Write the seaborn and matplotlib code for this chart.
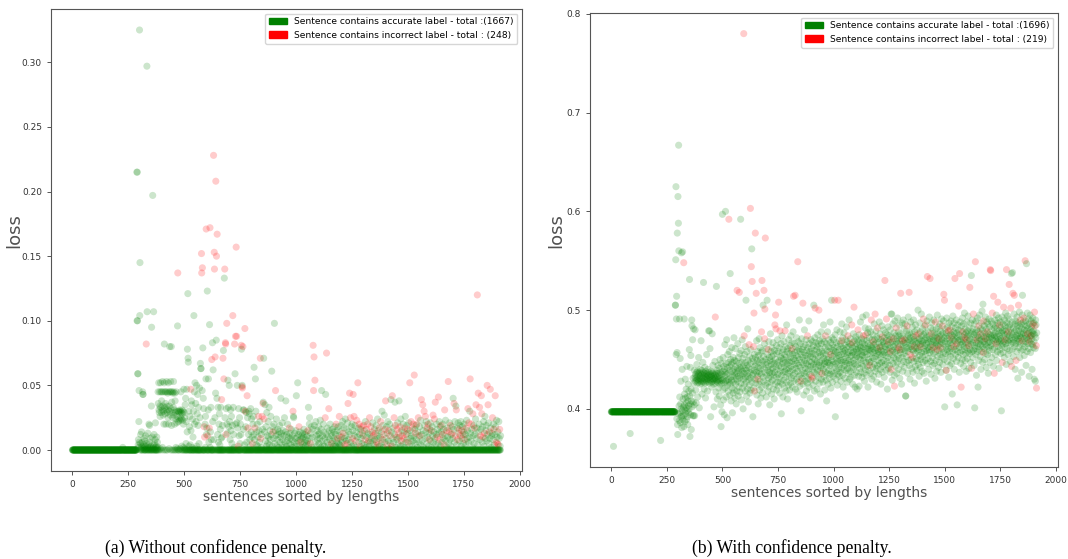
import numpy as np
import pandas as pd
import matplotlib
matplotlib.use("Agg")
import matplotlib.pyplot as plt
import matplotlib.patches as mpatches
from matplotlib.ticker import FormatStrFormatter
import seaborn as sns

# loss of every sentence (x1000), sentences sorted by length -> list position is x
# (a) without confidence penalty
loss_a = [0] * 225 + [2] + [0] * 49 + [
    # 275
    0, 0, 0, 0, 0, 0, 0, 0, 0, 0, 0, 0, 0, 215, 100, 215, 100, 59, 59, 4, 8, 2, 22, 46, 6,
    325, 104, 145, 0, 5, 12, 1, 0, 3, 14, 0, 2, 6, 0, 45, 43, 43, 1, 0, 4, 9, 0, 2, 7, 0,
    0, 3, 11, 0, 1, 82, 5, 0, 297, 107, 0, 2, 13, 0, 4, 1, 0, 20, 0, 6, 19, 2, 0, 9, 1,
    0, 3, 0, 34, 95, 0, 1, 10, 0, 197, 2, 0, 4, 107, 0, 12, 1, 0, 5, 0, 8, 21, 0, 2, 0,
    # 375
    3, 0, 10, 0, 1, 6, 0, 2, 45, 36, 0, 52, 31, 29, 0, 45, 34, 26, 1, 52, 33, 45, 0, 29, 38,
    45, 31, 2, 53, 34, 27, 45, 0, 30, 20, 52, 82, 33, 45, 0, 28, 36, 45, 20, 31, 0, 53, 34, 45, 29,
    0, 44, 31, 25, 52, 20, 45, 1, 34, 30, 80, 45, 27, 0, 53, 32, 45, 80, 19, 37, 0, 45, 29, 25, 44,
    0, 33, 53, 45, 27, 31, 0, 20, 44, 38, 0, 29, 24, 2, 45, 30, 0, 21, 26, 1, 96, 137, 0, 30, 22,
    # 475
    0, 30, 24, 29, 0, 31, 23, 1, 30, 25, 45, 0, 29, 24, 3, 31, 0, 28, 23, 0, 30, 20, 2, 47, 0,
    29, 0, 25, 1, 35, 0, 40, 0, 5, 22, 0, 47, 0, 14, 78, 0, 121, 71, 68, 0, 30, 3, 0, 18, 0,
    26, 0, 4, 0, 47, 15, 0, 38, 0, 35, 2, 0, 24, 0, 10, 0, 30, 0, 104, 0, 45, 20, 0, 52, 1,
    0, 36, 0, 22, 0, 50, 3, 0, 28, 0, 43, 0, 19, 0, 33, 0, 5, 0, 48, 0, 25, 0, 67, 0, 63,
    # 575
    63, 0, 152, 137, 0, 46, 141, 0, 79, 0, 40, 0, 32, 0, 18, 0, 10, 0, 20, 2, 26, 0, 55, 171, 12,
    0, 17, 0, 123, 0, 11, 0, 31, 55, 0, 6, 0, 17, 97, 0, 172, 2, 14, 0, 33, 0, 8, 0, 70, 0,
    0, 83, 22, 0, 62, 0, 228, 8, 0, 153, 140, 0, 25, 72, 0, 44, 208, 0, 85, 150, 0, 40, 167, 0, 12,
    0, 33, 0, 6, 0, 20, 0, 28, 0, 4, 0, 16, 0, 33, 0, 9, 0, 39, 0, 10, 0, 19, 0, 71, 0,
    # 675
    77, 0, 55, 0, 133, 0, 140, 25, 0, 83, 82, 0, 12, 32, 0, 98, 20, 0, 13, 0, 54, 0, 33, 0, 18,
    0, 50, 0, 22, 0, 8, 0, 31, 0, 15, 0, 26, 0, 5, 0, 19, 0, 104, 0, 33, 0, 12, 0, 2, 0,
    82, 0, 59, 0, 88, 20, 0, 157, 0, 88, 21, 0, 50, 0, 17, 0, 3, 0, 32, 0, 11, 0, 25, 0, 5,
    0, 20, 0, 12, 0, 81, 78, 0, 49, 50, 48, 0, 80, 31, 0, 16, 0, 31, 0, 4, 0, 94, 0, 30, 0,
    # 775
    18, 0, 29, 0, 6, 0, 42, 0, 25, 0, 17, 0, 12, 0, 30, 0, 28, 0, 8, 0, 3, 0, 32, 0, 14,
    0, 24, 0, 10, 0, 5, 0, 20, 0, 26, 0, 12, 64, 0, 8, 0, 17, 0, 55, 0, 30, 0, 4, 0, 14,
    0, 20, 0, 3, 0, 10, 0, 26, 0, 15, 0, 6, 0, 22, 0, 71, 0, 9, 0, 12, 0, 2, 0, 26, 0,
    16, 0, 36, 37, 0, 71, 0, 24, 0, 14, 0, 35, 0, 7, 0, 18, 0, 3, 0, 29, 0, 11, 0, 5, 0,
    # 875
    22, 0, 10, 0, 33, 0, 4, 0, 15, 0, 8, 0, 26, 0, 12, 0, 61, 0, 3, 0, 18, 0, 14, 0, 9,
    0, 20, 0, 98, 0, 5, 0, 15, 46, 0, 11, 0, 24, 0, 3, 0, 8, 0, 16, 0, 12, 0, 2, 0, 14,
    0, 19, 0, 6, 0, 10, 0, 40, 0, 13, 0, 4, 0, 21, 0, 8, 0, 15, 0, 2, 0, 11, 0, 25, 0,
    6, 0, 14, 0, 38, 0, 3, 0, 12, 0, 7, 0, 20, 0, 1, 0, 10, 0, 5, 0, 17, 0, 13, 0, 9,
    # 975
    0, 4, 0, 16, 0, 8, 0, 11, 0, 2, 0, 30, 0, 26, 25, 0, 6, 0, 13, 0, 3, 0, 9, 0, 15,
    0, 42, 0, 5, 0, 10, 0, 52, 0, 7, 0, 12, 0, 18, 0, 3, 0, 14, 0, 8, 0, 6, 0, 11, 0,
    2, 0, 9, 0, 13, 0, 4, 0, 10, 0, 16, 0, 6, 0, 12, 0, 3, 0, 8, 0, 14, 0, 5, 0, 11,
    0, 7, 0, 15, 0, 33, 0, 4, 0, 20, 25, 0, 9, 0, 5, 0, 13, 0, 18, 0, 2, 0, 10, 0, 16,
    # 1075
    0, 81, 0, 46, 0, 72, 0, 19, 0, 54, 0, 6, 0, 22, 0, 11, 0, 3, 0, 15, 0, 8, 0, 12, 0,
    18, 0, 5, 0, 13, 0, 9, 0, 23, 0, 2, 0, 16, 0, 46, 0, 7, 0, 11, 0, 4, 0, 20, 0, 14,
    0, 3, 0, 9, 0, 25, 0, 43, 0, 12, 0, 75, 0, 6, 0, 17, 0, 10, 0, 4, 0, 32, 0, 15, 0,
    8, 0, 20, 0, 2, 0, 13, 0, 5, 0, 11, 0, 16, 0, 7, 0, 3, 0, 14, 0, 9, 0, 18, 0, 4,
    # 1175
    0, 12, 0, 3, 20, 0, 7, 0, 15, 0, 2, 9, 0, 18, 0, 5, 0, 11, 26, 0, 4, 0, 14, 0, 8,
    3, 0, 19, 0, 10, 0, 6, 0, 22, 0, 13, 0, 1, 0, 17, 0, 9, 0, 4, 0, 24, 0, 11, 0, 7,
    0, 16, 0, 5, 0, 21, 0, 36, 0, 8, 0, 14, 0, 2, 44, 0, 12, 0, 25, 0, 6, 0, 18, 0, 3,
    20, 0, 9, 0, 15, 43, 0, 4, 0, 26, 0, 11, 0, 19, 0, 7, 0, 2, 0, 14, 0, 23, 0, 10, 0,
    # 1275
    0, 52, 0, 17, 0, 6, 0, 20, 0, 12, 0, 3, 0, 16, 0, 9, 0, 18, 0, 5, 0, 13, 0, 1, 0,
    11, 0, 19, 0, 4, 0, 15, 0, 8, 0, 22, 0, 2, 0, 16, 0, 10, 0, 5, 0, 20, 0, 13, 0, 7,
    0, 3, 0, 25, 0, 12, 0, 6, 0, 18, 0, 9, 0, 1, 0, 14, 0, 21, 0, 7, 0, 11, 0, 4, 0,
    16, 0, 8, 0, 13, 0, 2, 0, 19, 0, 6, 0, 11, 0, 24, 0, 4, 0, 15, 0, 9, 0, 17, 0, 3,
    # 1375
    0, 10, 0, 22, 0, 5, 0, 14, 0, 30, 0, 8, 0, 19, 0, 2, 0, 12, 0, 27, 0, 6, 0, 16, 0,
    38, 0, 9, 0, 18, 0, 4, 0, 13, 0, 22, 0, 7, 0, 15, 0, 1, 0, 20, 0, 11, 0, 5, 0, 39,
    0, 14, 0, 3, 0, 42, 0, 9, 0, 17, 0, 6, 0, 25, 0, 12, 0, 37, 0, 19, 0, 2, 0, 10, 0,
    8, 0, 16, 0, 21, 0, 5, 0, 13, 0, 38, 0, 10, 0, 18, 0, 3, 0, 24, 0, 7, 0, 15, 0, 11,
    # 1475
    0, 4, 0, 20, 0, 9, 0, 14, 0, 2, 0, 17, 0, 26, 0, 6, 0, 12, 0, 19, 0, 8, 0, 16, 0,
    13, 0, 6, 0, 21, 0, 3, 0, 52, 0, 15, 0, 9, 0, 22, 0, 11, 0, 4, 0, 17, 0, 7, 0, 20,
    0, 10, 0, 58, 0, 16, 0, 5, 0, 13, 0, 19, 0, 8, 0, 20, 0, 2, 0, 14, 0, 25, 0, 11, 0,
    6, 0, 18, 0, 11, 0, 23, 0, 4, 0, 39, 0, 12, 0, 7, 0, 35, 0, 15, 0, 2, 0, 30, 0, 19,
    # 1575
    0, 9, 0, 26, 0, 14, 0, 22, 0, 5, 0, 17, 0, 10, 0, 20, 0, 3, 0, 13, 0, 8, 0, 16, 0,
    21, 0, 7, 0, 15, 0, 2, 0, 18, 0, 11, 0, 27, 0, 6, 0, 14, 0, 24, 0, 9, 0, 37, 0, 4,
    0, 12, 0, 20, 0, 10, 0, 16, 0, 5, 0, 41, 0, 13, 0, 22, 0, 8, 0, 18, 0, 3, 0, 19, 0,
    14, 0, 6, 0, 12, 0, 20, 0, 9, 0, 16, 0, 4, 0, 31, 0, 11, 0, 23, 0, 7, 0, 15, 0, 2,
    # 1675
    0, 17, 0, 10, 0, 53, 0, 5, 0, 14, 0, 21, 0, 8, 0, 19, 0, 3, 0, 12, 0, 13, 0, 18, 0,
    9, 0, 40, 0, 16, 0, 36, 0, 6, 0, 22, 0, 11, 0, 34, 0, 31, 0, 4, 0, 17, 0, 8, 0, 21,
    0, 13, 0, 16, 0, 7, 0, 19, 0, 11, 0, 22, 0, 3, 0, 15, 0, 9, 0, 18, 0, 12, 0, 5, 0,
    14, 0, 20, 0, 8, 0, 12, 0, 4, 0, 17, 0, 23, 0, 9, 0, 15, 0, 32, 0, 6, 0, 21, 0, 10,
    # 1775
    0, 30, 0, 55, 0, 13, 0, 7, 0, 20, 0, 16, 0, 2, 0, 28, 0, 11, 0, 19, 0, 5, 0, 17, 0,
    12, 0, 24, 0, 35, 0, 9, 0, 17, 0, 120, 0, 4, 0, 44, 0, 14, 0, 20, 0, 33, 0, 8, 0, 11,
    0, 16, 0, 42, 0, 28, 0, 6, 0, 18, 0, 10, 0, 22, 0, 3, 0, 13, 0, 26, 0, 9, 0, 15, 0,
    19, 0, 7, 0, 50, 0, 12, 0, 35, 0, 21, 0, 5, 0, 14, 0, 9, 0, 47, 0, 17, 0, 2, 0, 11,
    # 1875
    0, 13, 0, 25, 0, 8, 0, 20, 0, 16, 0, 4, 0, 12, 0, 42, 0, 18, 0, 6, 0, 23, 0, 10, 0,
    5, 0, 14, 0, 4, 0, 22, 0, 9, 0, 16, 0, 3, 0, 11,
]

# sentences whose label is incorrect (red)
wrong_a = [
    330, 471, 529, 577, 578, 581, 589, 591, 598, 605, 612, 615, 623,
    631, 634, 635, 638, 641, 644, 647, 667, 673, 677, 681, 684, 685, 687, 690,
    717, 725, 729, 732, 734, 741, 755, 758, 760, 762, 771, 773, 781, 785,
    805, 816, 832, 840, 842, 848, 852, 857, 897, 908, 970, 986, 1013, 1021,
    1053, 1064, 1076, 1078, 1080, 1084, 1130, 1136, 1146, 1158,
    1179, 1186, 1193, 1204, 1210, 1218, 1228, 1232, 1239, 1243,
    1252, 1255, 1259, 1265, 1271, 1276, 1282, 1286, 1292, 1296,
    1302, 1308, 1314, 1320, 1324, 1328, 1334, 1340, 1346,
    1354, 1360, 1366, 1372, 1378, 1386, 1392, 1398,
    1400, 1406, 1414, 1420, 1428, 1430, 1438, 1444, 1448,
    1452, 1458, 1464, 1470, 1474, 1480, 1486, 1492, 1498,
    1502, 1508, 1514, 1520, 1524, 1528, 1534, 1540, 1546,
    1554, 1560, 1566, 1572, 1578, 1586, 1590, 1596,
    1604, 1612, 1618, 1622, 1630, 1636, 1642, 1648,
    1654, 1662, 1664, 1672, 1680, 1684, 1690, 1696,
    1706, 1712, 1716, 1722, 1728, 1734, 1740, 1746,
    1754, 1760, 1768, 1772, 1778, 1784, 1790, 1798,
    1804, 1810, 1814, 1820, 1824, 1828, 1830, 1836, 1842,
    1854, 1858, 1864, 1868, 1878, 1884, 1890, 1894, 1900, 1904, 1910,
]

# (b) with confidence penalty
loss_b = [397] * 10 + [362] + [397] * 74 + [375] + [397] * 136 + [368] + [397] * 52 + [
    # 275
    397, 397, 397, 397, 397, 397, 397, 397, 397, 397, 397, 397, 397, 505, 505, 551, 625, 455, 491, 514, 390, 457, 578, 384, 374,
    615, 395, 588, 667, 560, 403, 388, 491, 412, 396, 451, 386, 405, 428, 392, 400, 558, 381, 393, 440, 398, 559, 389, 410, 402,
    393, 548, 382, 491, 404, 415, 387, 399, 430, 411, 395, 401, 420, 389, 406, 443, 398, 412, 392, 384, 408, 425, 403, 396, 418,
    400, 460, 531, 413, 372, 405, 442, 394, 454, 420, 379, 408, 490, 484, 402, 416, 470, 393, 431, 407, 481, 393, 426, 404, 439,
    # 375
    393, 432, 480, 428, 435, 419, 431, 406, 437, 429, 445, 433, 426, 438, 412, 430, 436, 427, 452, 434, 429, 401, 437, 431, 425,
    433, 440, 428, 436, 469, 430, 426, 439, 415, 432, 435, 428, 447, 431, 437, 528, 427, 434, 420, 436, 430, 442, 426, 433, 411,
    438, 429, 435, 431, 455, 427, 436, 433, 418, 430, 440, 428, 434, 479, 437, 426, 432, 479, 430, 461, 435, 429, 392, 433, 438,
    427, 434, 422, 431, 476, 436, 428, 444, 430, 437, 425, 433, 402, 429, 435, 431, 448, 426, 493, 434, 430, 417, 436, 524, 428,
    # 475
    432, 439, 410, 427, 433, 444, 429, 436, 421, 430, 441, 413, 434, 428, 450, 425, 437, 404, 431, 382, 446, 426, 435, 397, 429,
    597, 438, 419, 452, 430, 409, 443, 426, 394, 440, 433, 465, 421, 437, 600, 428, 446, 412, 435, 470, 429, 391, 442, 424, 455,
    436, 418, 447, 430, 592, 427, 458, 439, 414, 443, 537, 425, 450, 432, 408, 445, 429, 462, 421, 438, 396, 447, 433, 416, 452,
    427, 440, 472, 419, 434, 449, 411, 437, 461, 425, 443, 430, 405, 448, 436, 418, 520, 441, 428, 466, 433, 413, 452, 439, 422,
    # 575
    446, 518, 431, 456, 417, 442, 435, 592, 426, 459, 440, 409, 447, 433, 470, 421, 438, 451, 400, 444, 430, 780, 436, 474, 425,
    455, 441, 418, 463, 432, 447, 510, 427, 439, 413, 458, 436, 444, 420, 481, 433, 449, 407, 442, 430, 465, 424, 453, 437, 416,
    446, 603, 431, 460, 419, 544, 440, 562, 427, 529, 451, 434, 392, 448, 436, 463, 421, 497, 439, 455, 418, 443, 430, 578, 452,
    426, 445, 517, 437, 469, 414, 449, 433, 458, 430, 442, 405, 454, 438, 425, 471, 447, 419, 436, 462, 428, 450, 441, 411, 457,
    # 675
    435, 478, 422, 530, 444, 459, 416, 448, 505, 432, 453, 428, 520, 441, 466, 471, 501, 437, 573, 424, 450, 445, 412, 461, 434,
    447, 510, 426, 455, 439, 418, 460, 443, 431, 468, 422, 452, 437, 404, 449, 433, 476, 440, 427, 458, 445, 415, 453, 436, 462,
    429, 448, 441, 467, 420, 455, 434, 446, 410, 459, 437, 485, 425, 450, 495, 443, 481, 432, 464, 419, 456, 440, 427, 470, 447,
    435, 458, 423, 508, 444, 431, 462, 449, 416, 479, 438, 453, 427, 466, 442, 395, 451, 434, 474, 425, 457, 446, 412, 460, 437,
    # 775
    450, 429, 468, 443, 421, 455, 438, 479, 447, 432, 463, 418, 452, 440, 485, 427, 458, 445, 410, 461, 436, 449, 424, 470, 441,
    433, 456, 447, 419, 464, 438, 452, 426, 474, 443, 459, 431, 467, 448, 461, 422, 455, 440, 478, 434, 514, 451, 428, 466, 445,
    457, 436, 515, 449, 420, 463, 441, 454, 430, 472, 446, 417, 459, 438, 549, 452, 427, 468, 444, 461, 433, 490, 450, 423, 458,
    442, 466, 435, 428, 398, 455, 447, 471, 431, 460, 439, 452, 507, 425, 463, 445, 414, 457, 436, 480, 449, 428, 465, 441, 454,
    # 875
    433, 470, 446, 418, 459, 437, 451, 426, 474, 444, 462, 430, 455, 440, 489, 422, 466, 448, 435, 458, 411, 453, 443, 470, 429,
    461, 447, 433, 456, 431, 468, 440, 452, 424, 464, 445, 505, 437, 459, 418, 450, 472, 502, 442, 455, 428, 467, 446, 435, 460,
    448, 420, 463, 439, 475, 453, 432, 466, 444, 500, 457, 426, 469, 447, 438, 461, 415, 454, 442, 478, 430, 466, 449, 436, 458,
    444, 471, 427, 456, 440, 485, 451, 433, 468, 446, 419, 462, 448, 437, 474, 455, 429, 466, 443, 408, 459, 450, 436, 478, 447,
    # 975
    425, 463, 452, 439, 470, 446, 431, 458, 444, 488, 435, 467, 455, 421, 461, 449, 510, 438, 472, 453, 427, 465, 445, 433, 459,
    470, 448, 436, 462, 455, 510, 442, 475, 392, 458, 446, 430, 467, 451, 439, 480, 457, 424, 463, 448, 435, 510, 454, 441, 469,
    433, 460, 452, 445, 478, 437, 466, 449, 428, 463, 455, 441, 486, 469, 447, 434, 472, 458, 422, 461, 450, 440, 477, 456, 444,
    465, 431, 459, 448, 413, 470, 452, 439, 483, 462, 446, 427, 468, 455, 441, 474, 457, 436, 463, 449, 490, 445, 430, 466, 453,
    # 1075
    438, 471, 459, 447, 432, 465, 454, 485, 442, 467, 457, 425, 462, 449, 476, 440, 458, 503, 446, 469, 434, 455, 422, 463, 451,
    473, 444, 460, 437, 466, 453, 420, 470, 457, 445, 480, 461, 433, 468, 452, 423, 475, 459, 441, 464, 450, 488, 437, 462, 455,
    446, 471, 458, 432, 467, 454, 493, 443, 463, 474, 449, 436, 470, 457, 428, 465, 452, 482, 440, 461, 475, 447, 495, 458, 434,
    469, 455, 443, 477, 462, 422, 466, 450, 481, 439, 460, 472, 447, 444, 464, 456, 436, 478, 459, 448, 490, 463, 430, 470, 452,
    # 1175
    461, 442, 475, 457, 468, 433, 465, 451, 486, 445, 470, 459, 496, 438, 466, 453, 479, 441, 462, 427, 473, 456, 444, 482, 460,
    449, 471, 458, 435, 467, 455, 488, 446, 462, 476, 440, 463, 452, 425, 470, 459, 447, 484, 464, 437, 473, 455, 443, 468, 458,
    480, 449, 466, 432, 472, 457, 530, 463, 445, 477, 454, 439, 469, 491, 460, 448, 475, 420, 465, 452, 483, 468, 441, 461, 474,
    456, 444, 470, 462, 437, 480, 458, 467, 449, 496, 440, 473, 496, 455, 429, 468, 459, 486, 446, 471, 463, 452, 477, 434, 423,
    # 1275
    465, 489, 457, 443, 474, 461, 450, 482, 468, 436, 471, 459, 447, 492, 466, 454, 478, 440, 462, 474, 451, 485, 469, 431, 460,
    476, 457, 517, 465, 445, 471, 425, 460, 487, 452, 469, 438, 474, 463, 490, 448, 467, 456, 481, 442, 470, 459, 486, 466, 413,
    413, 472, 453, 479, 462, 447, 484, 468, 436, 475, 458, 493, 449, 470, 461, 518, 444, 477, 465, 430, 472, 455, 488, 463, 450,
    469, 441, 476, 460, 483, 452, 466, 437, 473, 459, 490, 448, 470, 463, 426, 478, 456, 468, 443, 485, 461, 474, 451, 466, 439,
    # 1375
    480, 462, 449, 472, 458, 500, 467, 445, 476, 460, 433, 471, 454, 487, 465, 442, 478, 463, 450, 469, 496, 457, 474, 438, 466,
    453, 481, 468, 447, 491, 461, 475, 436, 470, 458, 484, 464, 449, 477, 485, 455, 472, 428, 466, 459, 489, 446, 534, 470, 462,
    478, 451, 467, 440, 474, 460, 493, 457, 471, 532, 463, 448, 482, 468, 435, 476, 459, 487, 465, 452, 473, 444, 480, 462, 469,
    456, 490, 470, 446, 477, 463, 431, 474, 488, 458, 467, 449, 481, 465, 438, 472, 460, 495, 469, 453, 476, 464, 442, 483, 471,
    # 1475
    459, 473, 447, 486, 466, 455, 479, 462, 437, 475, 468, 491, 452, 470, 461, 484, 445, 477, 466, 457, 489, 516, 472, 450, 510,
    402, 468, 481, 456, 474, 463, 439, 439, 477, 492, 460, 471, 448, 483, 466, 455, 479, 462, 432, 474, 487, 458, 469, 444, 480,
    467, 453, 476, 489, 461, 472, 446, 483, 465, 415, 474, 458, 494, 470, 451, 478, 463, 487, 440, 469, 476, 532, 460, 482, 455,
    471, 464, 490, 448, 477, 466, 404, 473, 458, 485, 469, 452, 480, 504, 462, 475, 437, 537, 470, 457, 488, 465, 446, 479, 422,
    # 1575
    468, 484, 459, 473, 450, 492, 466, 478, 455, 470, 443, 486, 463, 475, 497, 460, 472, 449, 481, 467, 456, 477, 438, 470, 462,
    488, 473, 451, 479, 466, 494, 458, 475, 464, 441, 482, 469, 456, 523, 471, 460, 487, 447, 476, 465, 535, 441, 478, 458, 490,
    467, 452, 481, 470, 496, 459, 475, 444, 486, 464, 401, 477, 461, 549, 472, 455, 489, 467, 434, 480, 470, 458, 492, 474, 463,
    422, 478, 466, 449, 484, 472, 460, 495, 469, 453, 481, 465, 476, 440, 487, 470, 458, 474, 499, 463, 480, 447, 506, 468, 457,
    # 1675
    489, 473, 461, 484, 468, 450, 477, 465, 493, 471, 456, 481, 442, 474, 463, 488, 470, 478, 455, 486, 467, 436, 476, 462, 491,
    472, 459, 483, 468, 447, 541, 475, 540, 464, 489, 473, 452, 480, 466, 497, 471, 460, 486, 475, 443, 514, 469, 482, 436, 474,
    462, 490, 477, 455, 484, 470, 466, 495, 473, 449, 481, 468, 458, 487, 508, 476, 463, 492, 470, 441, 479, 467, 485, 474, 460,
    488, 471, 456, 482, 469, 398, 477, 464, 493, 447, 479, 466, 486, 457, 473, 503, 468, 480, 452, 490, 475, 462, 484, 470, 497,
    # 1775
    466, 479, 445, 541, 472, 487, 461, 476, 494, 469, 455, 483, 478, 467, 491, 526, 474, 459, 485, 470, 448, 481, 502, 466, 477,
    537, 443, 472, 488, 460, 538, 475, 517, 467, 482, 453, 470, 496, 515, 478, 463, 486, 440, 472, 489, 466, 449, 480, 474, 458,
    493, 469, 484, 476, 431, 471, 487, 505, 462, 479, 468, 498, 474, 452, 483, 466, 490, 472, 459, 486, 476, 437, 481, 469, 495,
    515, 473, 460, 488, 477, 466, 492, 480, 454, 471, 485, 463, 550, 475, 489, 468, 444, 479, 547, 472, 484, 458, 497, 476, 466,
    # 1875
    482, 470, 491, 461, 477, 433, 486, 473, 468, 495, 480, 457, 474, 489, 466, 474, 483, 471, 440, 478, 465, 492, 486, 476, 462,
    479, 487, 468, 430, 498, 475, 484, 461, 428, 490, 472, 485, 464, 421, 477,
]

wrong_b = [
    326, 468, 529, 566, 576, 596, 598, 620,
    626, 630, 634, 640, 642, 645, 648, 652, 659, 676, 678, 687, 690, 691, 693,
    706, 736, 739, 741, 753, 759, 782, 814, 820, 827, 839, 853, 862, 883,
    902, 904, 917, 934, 948, 964, 987, 1005, 1021, 1038, 1065,
    1082, 1084, 1092, 1110, 1134, 1145, 1163, 1170, 1179, 1187, 1198,
    1208, 1220, 1231, 1238, 1246, 1256, 1260, 1269, 1274, 1282, 1293, 1299,
    1302, 1310, 1320, 1331, 1340, 1346, 1355, 1363, 1371, 1383, 1392,
    1404, 1414, 1422, 1434, 1440, 1448, 1458, 1466, 1474, 1482, 1490, 1496, 1499,
    1507, 1516, 1524, 1530, 1541, 1546, 1555, 1563, 1567, 1574, 1582, 1591, 1598,
    1608, 1613, 1621, 1629, 1638, 1645, 1654, 1662, 1674, 1675, 1684, 1692,
    1705, 1707, 1714, 1720, 1723, 1731, 1739, 1747, 1759, 1765, 1773,
    1778, 1787, 1790, 1797, 1801, 1807, 1813, 1821, 1832, 1841, 1848,
    1856, 1862, 1873, 1883, 1890, 1897, 1904, 1906, 1912, 1913,
]

legend_a = ["Sentence contains accurate label - total :(1667)",
            "Sentence contains incorrect label - total : (248)"]
legend_b = ["Sentence contains accurate label - total :(1696)",
            "Sentence contains incorrect label - total : (219)"]
captions = ["(a) Without confidence penalty.", "(b) With confidence penalty."]
xticks = [0, 250, 500, 750, 1000, 1250, 1500, 1750, 2000]


def to_frame(loss, wrong):
    df = pd.DataFrame({"sentence": np.arange(len(loss)),
                       "loss": np.array(loss) / 1000})
    df["label"] = np.where(df["sentence"].isin(wrong), "incorrect", "accurate")
    return df


def draw(ax, df, labels, yfmt, ylab_x, xlab_x):
    sns.scatterplot(data=df, x="sentence", y="loss", hue="label",
                    palette={"accurate": "green", "incorrect": "red"},
                    s=26, alpha=0.2, linewidth=0, legend=False, ax=ax)
    ax.set_xticks(xticks)
    ax.yaxis.set_major_formatter(FormatStrFormatter(yfmt))
    ax.tick_params(labelsize=6.5, length=3, width=0.7, color="#555555",
                   labelcolor="#333333")
    for sp in ax.spines.values():
        sp.set_linewidth(0.8)
        sp.set_color("#555555")
    ax.set_xlabel("sentences sorted by lengths", fontsize=10, color="#505050")
    ax.set_ylabel("loss", fontsize=13, color="#505050")
    ax.xaxis.set_label_coords(xlab_x, -0.042)
    ax.yaxis.set_label_coords(ylab_x, 0.52)
    handles = [mpatches.Patch(color="green", label=labels[0]),
               mpatches.Patch(color="red", label=labels[1])]
    ax.legend(handles=handles, loc="upper right", fontsize=6.6)


fig = plt.figure(figsize=(10.68, 5.59), dpi=100)
ax_a = fig.add_axes([51 / 1068, 88 / 559, 471 / 1068, 462 / 559])
ax_b = fig.add_axes([590 / 1068, 92 / 559, 468 / 1068, 454 / 559])

draw(ax_a, to_frame(loss_a, wrong_a), legend_a, "%.2f", -0.059, 0.53)
draw(ax_b, to_frame(loss_b, wrong_b), legend_b, "%.1f", -0.052, 0.51)

fig.text(216 / 1068, 0.011, captions[0], family="Liberation Serif",
         fontsize=12.7, ha="center", va="baseline")
fig.text(792 / 1068, 0.011, captions[1], family="Liberation Serif",
         fontsize=12.7, ha="center", va="baseline")

fig.savefig("out.png", dpi=100)
